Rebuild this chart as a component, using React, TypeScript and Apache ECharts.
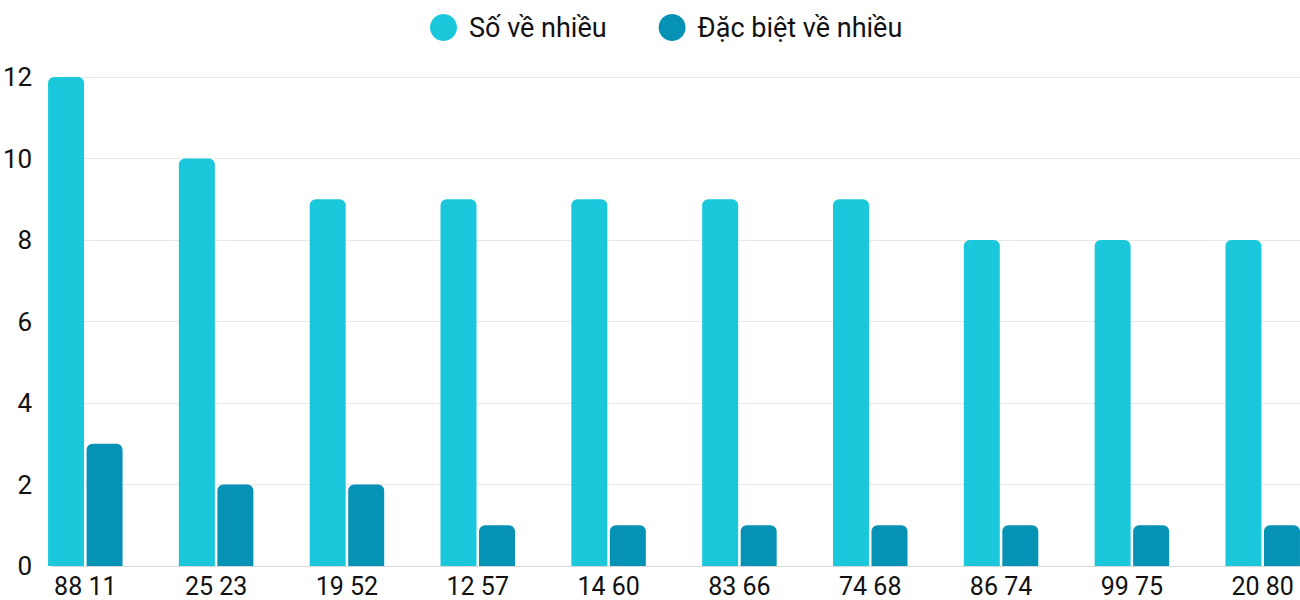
import React, { useEffect, useRef } from "react";
import * as echarts from "echarts";

const categories = ["88 11", "25 23", "19 52", "12 57", "14 60", "83 66", "74 68", "86 74", "99 75", "20 80"];
const soVeNhieu = [12, 10, 9, 9, 9, 9, 9, 8, 8, 8];
const dacBietVeNhieu = [3, 2, 2, 1, 1, 1, 1, 1, 1, 1];
const seriesNames = ["Số về nhiều", "Đặc biệt về nhiều"];
const colors = ["#1bc8db", "#0592b5"];

export default function App() {
  const ref = useRef<HTMLDivElement>(null);
  useEffect(() => {
    if (!ref.current) return;
    const chart = echarts.init(ref.current, null, { renderer: "svg" });
    const font = "Roboto";
    chart.setOption({
      animation: false,
      textStyle: { fontFamily: font },
      legend: {
        left: 430,
        top: 14,
        padding: 0,
        icon: "circle",
        itemWidth: 27,
        itemHeight: 27,
        itemGap: 52,
        data: seriesNames,
        textStyle: { fontFamily: font, fontSize: 27, color: "#111", padding: [0, 0, 0, 7], lineHeight: 27 },
      },
      grid: [
        { left: 48, right: 0, top: 77, bottom: 34 },
        { left: 85.3, right: 37.3, top: 77, bottom: 34 },
      ],
      xAxis: [
        {
          gridIndex: 0,
          type: "category",
          data: categories,
          axisLine: { show: true, lineStyle: { color: "#d9d9d9", width: 1 } },
          axisTick: { show: false },
          axisLabel: { show: false },
        },
        {
          gridIndex: 1,
          type: "category",
          data: categories,
          boundaryGap: false,
          axisLine: { show: false },
          axisTick: { show: false },
          axisLabel: { fontFamily: font, fontSize: 25, lineHeight: 25, color: "#111", margin: 8 },
        },
      ],
      yAxis: [
        {
          gridIndex: 0,
          type: "value",
          min: 0,
          max: 12,
          interval: 2,
          axisLine: { show: false },
          axisTick: { show: false },
          splitLine: { lineStyle: { color: "#e8e8e8", width: 1 } },
          axisLabel: { fontFamily: font, fontSize: 26, color: "#111", margin: 20 },
        },
        {
          gridIndex: 1,
          type: "value",
          min: 0,
          max: 12,
          interval: 2,
          show: false,
        },
      ],
      series: [
        {
          name: seriesNames[0],
          type: "bar",
          xAxisIndex: 1,
          yAxisIndex: 1,
          data: soVeNhieu,
          barWidth: 36,
          barGap: "7%",
          clip: false,
          itemStyle: { color: colors[0], borderRadius: [6, 6, 0, 0] },
        },
        {
          name: seriesNames[1],
          type: "bar",
          xAxisIndex: 1,
          yAxisIndex: 1,
          data: dacBietVeNhieu,
          barWidth: 36,
          clip: false,
          itemStyle: { color: colors[1], borderRadius: [6, 6, 0, 0] },
        },
      ],
    });
    return () => chart.dispose();
  }, []);
  return (
    <div
      ref={ref}
      style={{ position: "fixed", left: 0, top: 0, width: 1300, height: 600, background: "#fff" }}
    />
  );
}
